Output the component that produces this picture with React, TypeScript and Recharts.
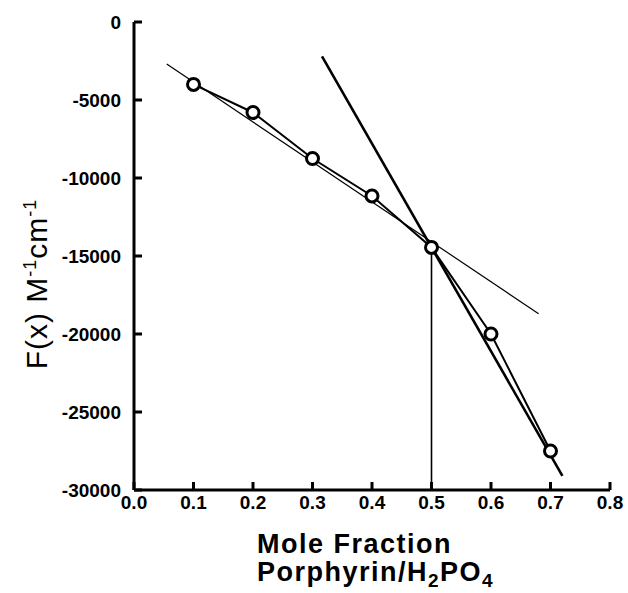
import { ComposedChart, Line, XAxis, YAxis, Label } from "recharts";

const xTicks = [0, 0.1, 0.2, 0.3, 0.4, 0.5, 0.6, 0.7, 0.8];
const yTicks = [0, -5000, -10000, -15000, -20000, -25000, -30000];

// job plot points
const fraction = [0.1, 0.2, 0.3, 0.4, 0.5, 0.6, 0.7];
const fx = [-4000, -5800, -8750, -11150, -14450, -20000, -27500];

// the two hand-drawn fit lines and the drop line at 0.5
const thinFitX = [0.055, 0.68];
const thinFitY = [-2700, -18700];
const thickFitX = [0.316, 0.72];
const thickFitY = [-2200, -29100];
const dropX = [0.5, 0.5];
const dropY = [-14450, -30000];

const zip = (xs: number[], ys: number[]) => xs.map((x, i) => ({ x, y: ys[i] }));

const points = zip(fraction, fx);
const thinFit = zip(thinFitX, thinFitY);
const thickFit = zip(thickFitX, thickFitY);
const drop = zip(dropX, dropY);

const FONT = "'Liberation Sans', Arial, Helvetica, sans-serif";
const tickStyle = { fontSize: 19, fontWeight: 700, fill: "#000", fontFamily: FONT };

function YTitle(props: any) {
  const vb = props.viewBox || {};
  const cx = 47;
  const cy = vb.y + vb.height / 2 + 28;
  return (
    <text
      x={cx}
      y={cy}
      transform={`rotate(-90 ${cx} ${cy})`}
      textAnchor="middle"
      fontFamily={FONT}
      fontSize={30}
      letterSpacing={1}
      fill="#000"
    >
      F(x) M<tspan dy={-11} fontSize={18}>-1</tspan>
      <tspan dy={11}>cm</tspan>
      <tspan dy={-11} fontSize={18}>-1</tspan>
    </text>
  );
}

function XTitle(props: any) {
  const vb = props.viewBox || {};
  const left = 257;
  const base = vb.y + 63;
  return (
    <text fontFamily={FONT} fontSize={27} fontWeight={700} letterSpacing={1.5} fill="#000">
      <tspan x={left} y={base}>Mole Fraction</tspan>
      <tspan x={left} y={base + 28}>Porphyrin/H</tspan>
      <tspan dy={6} fontSize={19}>2</tspan>
      <tspan dy={-6}>PO</tspan>
      <tspan dy={6} fontSize={19}>4</tspan>
    </text>
  );
}

export default function App() {
  return (
    <div style={{ position: "absolute", left: 0, top: 0, background: "#fff" }}>
      <ComposedChart
        width={628}
        height={593}
        margin={{ top: 22, right: 18, left: 0, bottom: 0 }}
      >
        <XAxis
          dataKey="x"
          type="number"
          domain={[0, 0.8]}
          ticks={xTicks}
          allowDataOverflow
          tickFormatter={(v: number) => v.toFixed(1)}
          tick={tickStyle}
          tickSize={-8}
          tickMargin={14}
          axisLine={{ stroke: "#000", strokeWidth: 3 }}
          tickLine={{ stroke: "#000", strokeWidth: 3 }}
          height={103}
        >
          <Label content={<XTitle />} />
        </XAxis>
        <XAxis
          xAxisId="top"
          orientation="top"
          dataKey="x"
          type="number"
          domain={[0, 0.8]}
          ticks={xTicks}
          tick={false}
          tickSize={-8}
          axisLine={{ stroke: "#000", strokeWidth: 3 }}
          tickLine={{ stroke: "#000", strokeWidth: 3 }}
          height={0}
        />
        <YAxis
          type="number"
          domain={[-30000, 0]}
          ticks={yTicks}
          allowDataOverflow
          tick={tickStyle}
          tickSize={-8}
          tickMargin={21}
          axisLine={{ stroke: "#000", strokeWidth: 3 }}
          tickLine={{ stroke: "#000", strokeWidth: 3 }}
          width={134}
        >
          <Label content={<YTitle />} />
        </YAxis>
        <YAxis
          yAxisId="right"
          orientation="right"
          type="number"
          domain={[-30000, 0]}
          ticks={yTicks}
          tick={false}
          tickSize={-8}
          axisLine={{ stroke: "#000", strokeWidth: 3 }}
          tickLine={{ stroke: "#000", strokeWidth: 3 }}
          width={0}
        />
        <Line
          data={thinFit}
          dataKey="y"
          type="linear"
          stroke="#000"
          strokeWidth={1.2}
          dot={false}
          isAnimationActive={false}
        />
        <Line
          data={thickFit}
          dataKey="y"
          type="linear"
          stroke="#000"
          strokeWidth={2.6}
          dot={false}
          isAnimationActive={false}
        />
        <Line
          data={drop}
          dataKey="y"
          type="linear"
          stroke="#000"
          strokeWidth={1.6}
          dot={false}
          isAnimationActive={false}
        />
        <Line
          data={points}
          dataKey="y"
          type="linear"
          stroke="#000"
          strokeWidth={2}
          dot={{ r: 6, fill: "#fff", stroke: "#000", strokeWidth: 3 }}
          isAnimationActive={false}
        />
      </ComposedChart>
    </div>
  );
}
